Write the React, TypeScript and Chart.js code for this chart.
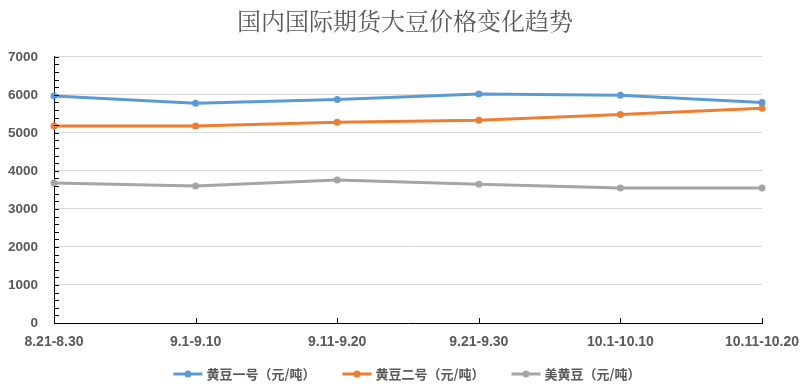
import React, { useEffect, useRef } from "react";
import { Chart, registerables } from "chart.js";

Chart.register(...registerables);

const categories = ["8.21-8.30", "9.1-9.10", "9.11-9.20", "9.21-9.30", "10.1-10.10", "10.11-10.20"];
const seriesNames = ["黄豆一号（元/吨）", "黄豆二号（元/吨）", "美黄豆（元/吨）"];
const soy1 = [5970, 5780, 5880, 6020, 5990, 5800];
const soy2 = [5180, 5180, 5280, 5330, 5480, 5650];
const usSoy = [3680, 3600, 3760, 3650, 3550, 3550];
const colors = ["#5B9BD5", "#ED7D31", "#A5A5A5"];
const titleText = "国内国际期货大豆价格变化趋势";

const TEXT = "#595959";
const CJK = "'Noto Serif CJK SC', 'Noto Sans CJK SC', 'Liberation Sans', sans-serif";
const CJK_SANS = "'Noto Sans CJK SC', 'Liberation Sans', sans-serif";
const LATIN = "'Liberation Sans', Arial, sans-serif";

// bottom legend: line + dot symbol followed by the dataset label
const bottomLegend = {
  id: "bottomLegend",
  afterDraw(chart: any) {
    const { ctx } = chart;
    const datasets = chart.data.datasets;
    const symW = 29;
    const symGap = 4;
    const itemGap = 27;
    const cy = 374;
    ctx.save();
    ctx.font = `bold 13px ${CJK_SANS}`;
    const widths = datasets.map((d: any) => ctx.measureText(d.label).width);
    const total = widths.reduce((a: number, w: number) => a + symW + symGap + w, 0) + itemGap * (datasets.length - 1);
    let x = 407 - total / 2;
    ctx.textBaseline = "middle";
    ctx.textAlign = "left";
    datasets.forEach((d: any, i: number) => {
      ctx.strokeStyle = d.borderColor;
      ctx.lineWidth = 3;
      ctx.beginPath();
      ctx.moveTo(x, cy);
      ctx.lineTo(x + symW, cy);
      ctx.stroke();
      ctx.fillStyle = d.borderColor;
      ctx.beginPath();
      ctx.arc(x + symW / 2, cy, 3.5, 0, Math.PI * 2);
      ctx.fill();
      ctx.fillStyle = TEXT;
      ctx.fillText(d.label, x + symW + symGap, cy + 0.5);
      x += symW + symGap + widths[i] + itemGap;
    });
    ctx.restore();
  },
};

const tickMarks = {
  id: "tickMarks",
  afterDraw(chart: any) {
    const { ctx, scales } = chart;
    const x = scales.x;
    const y = scales.y;
    ctx.save();
    ctx.strokeStyle = "#000";
    ctx.lineWidth = 1;
    ctx.beginPath();
    for (let v = 0; v <= 7000; v += 200) {
      const py = Math.round(y.getPixelForValue(v)) + 0.5;
      ctx.moveTo(x.left, py);
      ctx.lineTo(x.left + 5, py);
    }
    for (let i = 0; i < categories.length; i++) {
      const px = Math.round(x.getPixelForValue(i)) + 0.5;
      ctx.moveTo(px, y.bottom);
      ctx.lineTo(px, y.bottom - 5);
    }
    ctx.stroke();
    ctx.restore();
  },
};

export default function App() {
  const ref = useRef<HTMLCanvasElement>(null);

  useEffect(() => {
    if (!ref.current) return;
    const data = [soy1, soy2, usSoy];
    const chart = new Chart(ref.current, {
      type: "line",
      data: {
        labels: categories,
        datasets: data.map((d, i) => ({
          label: seriesNames[i],
          data: d,
          borderColor: colors[i],
          backgroundColor: colors[i],
          borderWidth: 3,
          pointRadius: 3.5,
          pointBorderWidth: 0,
          pointBackgroundColor: colors[i],
          tension: 0,
          yAxisID: "y",
        })),
      },
      options: {
        animation: false,
        responsive: false,
        maintainAspectRatio: false,
        layout: { padding: 0 },
        plugins: {
          title: {
            display: true,
            text: titleText,
            color: TEXT,
            font: { family: CJK, size: 24, weight: "normal" },
            padding: { top: 6, bottom: 22 },
          },
          legend: { display: false },
          tooltip: { enabled: false },
        },
        scales: {
          x: {
            offset: false,
            grid: { display: false, drawTicks: false },
            border: { color: "#000", width: 1 },
            ticks: {
              color: TEXT,
              font: { family: LATIN, size: 14, weight: "bold" },
              padding: 11,
              maxRotation: 0,
              autoSkip: false,
            },
            afterFit: (s: any) => {
              s.height = 67;
            },
          },
          y: {
            min: 0,
            max: 7000,
            grid: {
              drawTicks: false,
              color: (ctx: any) =>
                ctx.tick && ctx.tick.value % 1000 === 0 && ctx.tick.value !== 0 ? "#D9D9D9" : "rgba(0,0,0,0)",
              lineWidth: 1,
            },
            border: { color: "#000", width: 1 },
            ticks: {
              stepSize: 200,
              autoSkip: false,
              color: TEXT,
              font: { family: LATIN, size: 13.5, weight: "bold" },
              padding: 16,
              callback: (v: any) => (Number(v) % 1000 === 0 ? String(v) : ""),
            },
            afterFit: (s: any) => {
              s.width = 54;
            },
          },
          y2: {
            position: "right",
            min: 0,
            max: 7000,
            grid: { display: false, drawTicks: false },
            border: { display: false },
            ticks: { display: false },
            afterFit: (s: any) => {
              s.width = 47;
            },
          },
        },
      },
      plugins: [tickMarks, bottomLegend],
    });
    return () => chart.destroy();
  }, []);

  return (
    <div style={{ position: "fixed", left: 0, top: 0, width: 810, height: 390, background: "#fff" }}>
      <canvas ref={ref} width={810} height={390} style={{ width: 810, height: 390, display: "block" }} />
    </div>
  );
}
